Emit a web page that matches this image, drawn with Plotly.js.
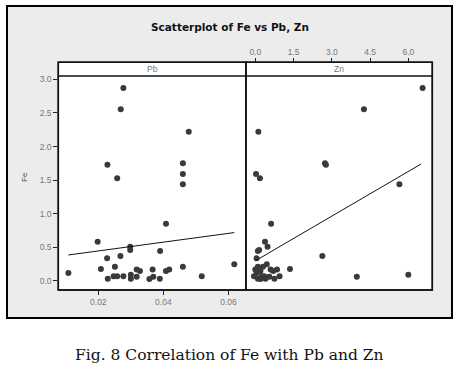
<!DOCTYPE html>
<html>
<head>
<meta charset="utf-8">
<script src="https://cdn.plot.ly/plotly-3.0.1.min.js"></script>
<style>
html,body{margin:0;padding:0;background:#fff;}
#chart{width:459px;height:374px;}
</style>
</head>
<body>
<div id="chart"></div>
<script>
// Fe values (shared by both panels)
var fe = [2.87, 2.555, 2.22, 1.75, 1.73, 1.59, 1.53, 1.44, 0.85, 0.585, 0.51, 0.46, 0.446, 0.37, 0.34, 0.25, 0.21, 0.21, 0.18, 0.17, 0.17, 0.17, 0.15, 0.15, 0.12, 0.094, 0.07, 0.07, 0.07, 0.07, 0.064, 0.064, 0.035, 0.035, 0.035, 0.03];
// Pb values
var pb = [0.0277, 0.0269, 0.0478, 0.046, 0.0228, 0.046, 0.0258, 0.046, 0.0408, 0.0198, 0.0298, 0.0298, 0.039, 0.0268, 0.0227, 0.0618, 0.0251, 0.046, 0.0208, 0.0318, 0.0367, 0.0418, 0.0328, 0.0408, 0.0108, 0.030, 0.0247, 0.0258, 0.0277, 0.0518, 0.0318, 0.0369, 0.0229, 0.030, 0.0389, 0.0357];
// Zn values
var zn = [6.56, 4.26, 0.12, 2.73, 2.77, 0.03, 0.18, 5.65, 0.62, 0.38, 0.48, 0.15, 0.10, 2.63, 0.05, 0.45, 0.10, 0.30, 1.36, 0.85, 0.60, 0.0, 0.70, 0.20, 0.05, 6.0, 0.25, 0.35, 0.95, -0.05, 3.98, 0.55, 0.10, 0.40, 0.75, 0.20];
// Fitted regression lines
var pbFitX = [0.0108, 0.0618];
var pbFitY = [0.387, 0.72];
var znFitX = [0.0, 6.5];
var znFitY = [0.30, 1.74];
// Tick labels
var feTicks = [0, 0.5, 1.0, 1.5, 2.0, 2.5, 3.0];
var pbTicks = [0.02, 0.04, 0.06];
var znTicks = [0.0, 1.5, 3.0, 4.5, 6.0];

var W = 459, H = 374;
function fx(px){return px/W;}
function fy(py){return 1 - py/H;}

var mk = {color:'#3a3a3a', size:6, symbol:'circle'};
var tickFont = {family:'Liberation Sans, Arial, sans-serif', size:8.5, color:'#777'};

var traces = [
  {x:pb, y:fe, type:'scatter', mode:'markers', marker:mk, xaxis:'x', yaxis:'y', hoverinfo:'none'},
  {x:pbFitX, y:pbFitY, type:'scatter', mode:'lines', line:{color:'#111', width:1}, xaxis:'x', yaxis:'y', hoverinfo:'none'},
  {x:zn, y:fe, type:'scatter', mode:'markers', marker:mk, xaxis:'x2', yaxis:'y2', hoverinfo:'none'},
  {x:znFitX, y:znFitY, type:'scatter', mode:'lines', line:{color:'#111', width:1}, xaxis:'x2', yaxis:'y2', hoverinfo:'none'}
];

var yRange = [-0.134, 3.049];
var yDom = [fy(290), fy(76)];

var layout = {
  width:W, height:H,
  margin:{l:0,r:0,t:0,b:0},
  paper_bgcolor:'#ffffff',
  plot_bgcolor:'#ffffff',
  showlegend:false,
  xaxis:{domain:[fx(58.3), fx(246)], range:[0.0077, 0.0654], tickvals:pbTicks, ticktext:pbTicks.map(function(v){return v.toFixed(2);}),
    ticks:'outside', ticklen:4, tickcolor:'#222', tickfont:tickFont, showgrid:false, zeroline:false, showline:false, anchor:'y'},
  yaxis:{domain:yDom, range:yRange, tickvals:feTicks, ticktext:feTicks.map(function(v){return v.toFixed(1);}),
    ticks:'outside', ticklen:4, tickcolor:'#222', tickfont:tickFont, showgrid:false, zeroline:false, showline:false, anchor:'x'},
  xaxis2:{domain:[fx(246), fx(432.3)], range:[-0.365, 6.94], tickvals:znTicks, ticktext:znTicks.map(function(v){return v.toFixed(1);}),
    side:'top', anchor:'free', position:fy(62.3), ticks:'outside', ticklen:4, tickcolor:'#222', tickfont:tickFont, showgrid:false, zeroline:false, showline:false},
  yaxis2:{domain:yDom, range:yRange, anchor:'x2', showticklabels:false, ticks:'', showgrid:false, zeroline:false, showline:false},
  shapes:[
    {type:'rect', xref:'paper', yref:'paper', x0:fx(7), x1:fx(452), y0:fy(318), y1:fy(6), fillcolor:'#ececec', line:{color:'#000', width:2}, layer:'below'},
    {type:'rect', xref:'paper', yref:'paper', x0:fx(58.3), x1:fx(246), y0:fy(290), y1:fy(62.3), fillcolor:'#ffffff', line:{color:'#111', width:1.5}, layer:'below'},
    {type:'rect', xref:'paper', yref:'paper', x0:fx(246), x1:fx(432.3), y0:fy(290), y1:fy(62.3), fillcolor:'#ffffff', line:{color:'#111', width:1.5}, layer:'below'},
    {type:'line', xref:'paper', yref:'paper', x0:fx(58.3), x1:fx(432.3), y0:fy(76), y1:fy(76), line:{color:'#111', width:1.5}},
    {type:'line', xref:'paper', yref:'paper', x0:fx(246), x1:fx(246), y0:fy(290), y1:fy(62.3), line:{color:'#111', width:1.5}},
    {type:'rect', xref:'paper', yref:'paper', x0:fx(58.3), x1:fx(432.3), y0:fy(290), y1:fy(62.3), fillcolor:'rgba(0,0,0,0)', line:{color:'#111', width:1.5}}
  ],
  annotations:[
    {text:'<b>Scatterplot of Fe vs Pb, Zn</b>', xref:'paper', yref:'paper', x:fx(229.5), y:fy(27), showarrow:false, xanchor:'center', yanchor:'middle',
      font:{family:'DejaVu Sans, Liberation Sans, sans-serif', size:10.5, color:'#111'}},
    {text:'Pb', xref:'paper', yref:'paper', x:fx(152), y:fy(69.5), showarrow:false, xanchor:'center', yanchor:'middle', font:tickFont},
    {text:'Zn', xref:'paper', yref:'paper', x:fx(339), y:fy(69.5), showarrow:false, xanchor:'center', yanchor:'middle', font:tickFont},
    {text:'Fe', xref:'paper', yref:'paper', x:fx(24), y:fy(177), showarrow:false, textangle:-90, xanchor:'center', yanchor:'middle',
      font:{family:'Liberation Sans, Arial, sans-serif', size:8, color:'#555'}},
    {text:'Fig. 8 Correlation of Fe with Pb and Zn', xref:'paper', yref:'paper', x:fx(230), y:fy(355), showarrow:false, xanchor:'center', yanchor:'middle',
      font:{family:'DejaVu Serif, Liberation Serif, serif', size:15.5, color:'#111'}}
  ]
};

Plotly.newPlot('chart', traces, layout, {staticPlot:true, displayModeBar:false});
</script>
</body>
</html>
